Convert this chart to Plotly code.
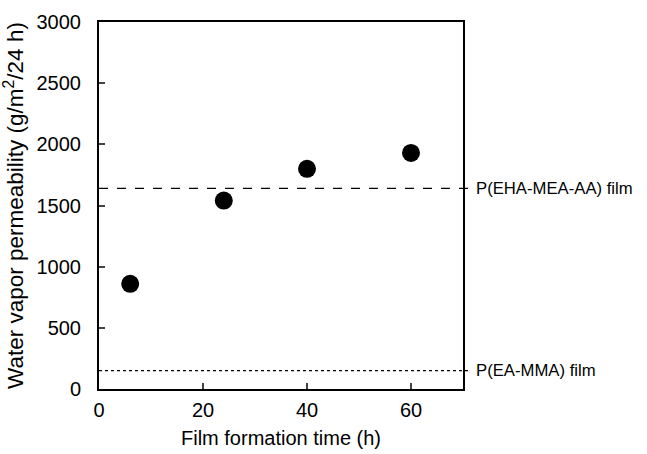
import plotly.graph_objects as go

time_h = [6, 24, 40, 60]
permeability = [860, 1540, 1800, 1930]
ref_names = ["P(EHA-MEA-AA) film", "P(EA-MMA) film"]
ref_values = [1640, 150]
ref_dashes = ["dash", "dot"]
x_ticks = [0, 20, 40, 60]
y_ticks = [0, 500, 1000, 1500, 2000, 2500, 3000]

font = "Liberation Sans, Arial, sans-serif"

fig = go.Figure()
fig.add_trace(go.Scatter(
    x=time_h, y=permeability, mode="markers",
    marker=dict(size=18, color="black"), showlegend=False, cliponaxis=False))

for name, val, dash in zip(ref_names, ref_values, ref_dashes):
    fig.add_shape(type="line", xref="paper", yref="y", x0=0, x1=1.02, y0=val, y1=val,
                  line=dict(color="black", width=1.3, dash=dash))
    fig.add_annotation(x=1.03, y=val, xref="paper", yref="y", text=name, showarrow=False,
                       xanchor="left", yanchor="middle",
                       font=dict(family=font, size=16.7, color="black"))

fig.update_xaxes(range=[0, 70], tickvals=x_ticks, ticks="inside", ticklen=6, tickwidth=1.5,
                 showline=True, linecolor="black", linewidth=2, mirror=True, automargin=False,
                 showgrid=False, zeroline=False, ticklabelstandoff=2,
                 title=dict(text="Film formation time (h)", font=dict(family=font, size=20, color="black"), standoff=11),
                 tickfont=dict(family=font, size=20, color="black"))
fig.update_yaxes(range=[0, 3000], tickvals=y_ticks, ticks="inside", ticklen=6, tickwidth=1.5,
                 showline=True, linecolor="black", linewidth=2, mirror=True, automargin=False,
                 showgrid=False, zeroline=False, ticklabelstandoff=12,
                 title=dict(text="Water vapor permeability (g/m<sup>2</sup>/24 h)", font=dict(family=font, size=22.5, color="black"), standoff=7),
                 tickfont=dict(family=font, size=20, color="black"))

fig.update_layout(width=647, height=454, margin=dict(l=99, r=184, t=22, b=65),
                  plot_bgcolor="white", paper_bgcolor="white", showlegend=False)

fig.write_html("out.html")
